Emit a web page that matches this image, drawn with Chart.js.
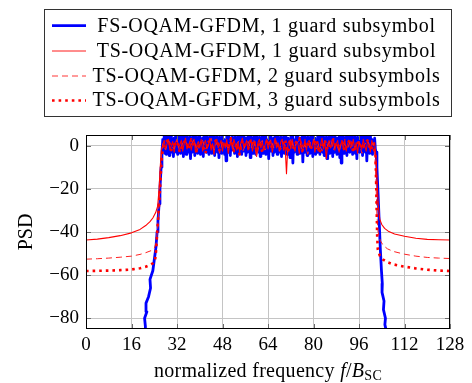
<!DOCTYPE html>
<html>
<head>
<meta charset="utf-8">
<script src="https://cdn.jsdelivr.net/npm/chart.js@4.4.1/dist/chart.umd.min.js"></script>
<style>
  html, body { margin: 0; padding: 0; background: #fff; }
  canvas { display: block; }
</style>
</head>
<body>
<canvas id="c" width="472" height="383" style="width:472px;height:383px"></canvas>
<script>
// ---------------- data ----------------
const seriesLabels = [
  'FS-OQAM-GFDM, 1 guard subsymbol',
  'TS-OQAM-GFDM, 1 guard subsymbol',
  'TS-OQAM-GFDM, 2 guard subsymbols',
  'TS-OQAM-GFDM, 3 guard subsymbols'
];
const xTicks = [0, 16, 32, 48, 64, 80, 96, 112, 128];
const yTicks = [-80, -60, -40, -20, 0];

// passband sample grids (normalized frequency)
const bluePassStart = 27, bluePassStep = 0.25;
const redPassStart = 27, redPassStep = 0.5;        // red solid
const coarsePassStart = 27, coarsePassStep = 1;    // red dashed + red dotted

// FS-OQAM-GFDM, 1 guard subsymbol
const blueLeftEdge = [[20.4,-93],[20.9,-84],[20.6,-80],[21.4,-77],[21.1,-73],[22,-70],[22.7,-66],[22.5,-62],[23.5,-58],[24.2,-51],[24.6,-47],[25,-40],[25.3,-35],[25.7,-27],[26,-20],[26.4,-10],[26.7,-3]];
const bluePass = [
  3,-2,4.5,-3.5,1.5,-4,5,-1,2.5,-4.5,4,-2.5,5,-3,1,-5,3.5,-1.5,4.5,-3,
  2,-4,5,-2,3,-3.5,4.5,-1,1.5,-5,4,-2.5,3.5,-4,5,-1.5,2.5,-3,4,-6,
  1,-3,4.5,-2,3,-4.5,5,-1,2,-3.5,4,-2.5,5,-4,1.5,-2,3.5,-5,4.5,-1.5,
  3,-3,5,-2.5,2,-4,4,-1,5,-3.5,1.5,-2,4.5,-4.5,3,-1.5,5,-3,2.5,-5.5,
  4,-2,1.5,-3.5,5,-1,3,-4,2,-7,4.5,-2.5,5,-3,1,-4.5,3.5,-2,4,-1,
  2.5,-3.5,5,-2,1.5,-5,4,-1.5,3,-3,5,-4,2,-2.5,4.5,-1,3.5,-4.5,1,-3,
  5,-2,3,-5.5,4,-1,2,-3.5,4.5,-2.5,1.5,-4,5,-1.5,3,-3,4,-5,2.5,-2,
  4.5,-3.5,1,-1.5,5,-4,3,-2,2,-6,4,-2.5,5,-1,1.5,-4.5,3.5,-3,4.5,-2,
  2,-4,5,-1.5,3,-3,4,-5,1.5,-2,4.5,-3.5,5,-1,2.5,-4,3.5,-2.5,1,-5.5,
  4,-2,5,-8,3,-3,2,-1.5,4.5,-4,5,-2.5,1.5,-3.5,3.5,-1,4,-7.5,2.5,-3,
  5,-2,1.5,-4.5,4,-1,3,-3.5,5,-2.5,2,-5,4.5,-1.5,3.5,-4,1,-3,5,-2,
  3,-4,4.5,-1,2,-3,5,-4.5,1.5,-2.5,4,-6,3,-1.5,5,-3.5,2.5,-2,4.5,-5,
  1.5,-3,5,-1,3.5,-4,2,-2.5,4,-5.5,4.5,-8,3,-2,5,-3.5,1,-1.5,4,-4.5,
  2.5,-2,5,-3,3.5,-1,4.5,-4,1.5,-2.5,5,-3.5,3,-6,4,-1.5,2,-3,4.5,-2,
  3,-4.5,5,-1.5,2,-3,4,-7,1.5,-2.5,4.5,-3.5,5,-1,3,-4,2.5,-2,3.5,-1.5
];
const blueRightEdge = [[102,-3],[102.3,-10],[102.7,-22],[103.1,-35],[103.5,-48],[103.9,-58],[104.2,-64],[104.1,-68],[104.8,-72],[104.6,-76],[105.3,-80],[105.1,-83],[105.8,-87],[106.3,-93]];

// TS-OQAM-GFDM, 1 guard subsymbol
const redSolidLeftEdge = [[0,-43.7],[4,-43.3],[8,-42.6],[12,-41.7],[16,-40.4],[19,-38.8],[21,-37],[22.5,-35.2],[23.5,-33.5],[24.5,-31],[25.2,-28],[25.7,-20],[26.1,-10],[26.5,-2]];
const redSolidPass = [
  0.5,2.5,-1.5,1,3,-2,0,2,-3,1.5,
  3,-1,0.5,2.5,-2.5,1,3.5,-1.5,0,2,
  -2,1.5,3,-3,0.5,2,-1,3,-2.5,1,
  2.5,-1.5,0,3.5,-2,1,-4,2,3,-1,
  0.5,2.5,-2.5,1.5,-1,3,-3.5,0,2,-1.5,
  3,0.5,-2,2,-3,1.5,3.5,-1,0.5,2.5,
  -1.5,1,3,-2.5,0,2,-5,1.5,3,-1,
  2,-2,0.5,3,-1.5,1,2.5,-3,0,3.5,
  -1,1.5,-2.5,2,3,-2,0.5,-13,1,2.5,
  -1.5,3,0,-2.5,2,1,-3.5,2.5,0.5,-1,
  3,-2,1.5,2.5,-1,0,3,-3,1,2,
  -2.5,0.5,3.5,-1.5,2,-6,1,2.5,-1,0,
  3,-2,1,2.5,-3,0.5,2,-1.5,3,-2.5,
  1,2.5,-1,0,3,-2,1.5,-3.5,2,0.5,
  -1.5,3,0,-2.5,2,1,-3,2.5,0,1.5
];
const redSolidRightEdge = [[102,-6],[102.4,-18],[102.8,-28],[103.3,-34],[104,-36.5],[105,-38.3],[106.5,-39.8],[108.5,-40.9],[112,-42],[116,-42.9],[120,-43.4],[124,-43.6],[128,-43.7]];

// TS-OQAM-GFDM, 2 guard subsymbols
const redDashedLeftEdge = [[0,-52.6],[4,-52.4],[8,-52.1],[12,-51.7],[16,-51.2],[19,-50.4],[21,-49.6],[23,-48.6],[24,-47.5],[24.7,-45],[25.2,-38],[25.7,-26],[26.2,-12],[26.6,-3]];
const redDashedPass = [
  1,-2,2.5,0,-1.5,3,-3,1.5,2,-1,0.5,3,-2.5,1,2.5,-1.5,0,3.5,-2,1.5,
  -3.5,2,0.5,-1,3,-2,1,2.5,-3,0,2,-1.5,3,-5,1,2.5,-2,0.5,3,-1,
  1.5,-2.5,2,0,-3,3.5,-1,1,2.5,-2,0.5,-4,2,3,-1.5,1,-2.5,2.5,0,3,
  -2,1.5,-3,2,0.5,-1.5,3,-2.5,1,2,-3.5,0.5,2.5,-1,1.5
];
const redDashedRightEdge = [[101.6,-5],[102,-18],[102.3,-32],[102.7,-40],[103.5,-44],[104.5,-46.2],[106,-47.8],[108,-49],[112,-50.3],[116,-51.2],[120,-51.8],[124,-52.1],[128,-52.3]];

// TS-OQAM-GFDM, 3 guard subsymbols
const redDottedLeftEdge = [[0,-58.1],[4,-58],[8,-57.9],[12,-57.7],[16,-57.4],[19,-56.8],[21,-56.1],[22.5,-55.3],[23.5,-54.5],[24.3,-53],[24.7,-48],[25,-41],[25.5,-31],[26,-21],[26.6,-6]];
const redDottedPass = [
  -1,1.5,3,-2,0.5,2,-3,1,2.5,-1.5,3,0,-2.5,2,1,-3.5,2.5,-0.5,1.5,3,
  -2,0,2,-1,3.5,-2.5,1,-4,2.5,0.5,-1.5,3,1,-2,2,-3,0.5,3,-1,1.5,
  2.5,-2,0,3,-3,1.5,-1,2,3.5,-2.5,0.5,2,-1.5,1,3,-3.5,0,2.5,-2,1,
  3,-1,0.5,2,-2.5,1.5,3,-3,0,2,-1.5,1,2.5,-2,0
];
const redDottedRightEdge = [[101.8,-4],[102,-15],[102.2,-29],[102.4,-42],[102.6,-48],[103.3,-51],[104.5,-52.8],[106,-54],[108,-55],[111.6,-56],[116,-56.9],[120,-57.5],[124,-57.9],[128,-58.1]];

// ---------------- build ----------------
function build(left, pass, start, step, right) {
  const pts = left.map(p => ({x: p[0], y: p[1]}));
  pass.forEach((v, i) => pts.push({x: start + i * step, y: v}));
  right.forEach(p => pts.push({x: p[0], y: p[1]}));
  return pts;
}

const styles = [
  {color: '#0000ff', width: 2.8, dash: [], order: 10, legendWidth: 2.8},
  {color: '#ff0000', width: 1.1, dash: [], order: 3, legendWidth: 0.9},
  {color: '#ff2020', width: 1.0, dash: [6, 4], order: 2, legendWidth: 0.9},
  {color: '#ff0000', width: 2.6, dash: [2.6, 4], order: 1, legendWidth: 2.6}
];

const seriesData = [
  build(blueLeftEdge, bluePass, bluePassStart, bluePassStep, blueRightEdge),
  build(redSolidLeftEdge, redSolidPass, redPassStart, redPassStep, redSolidRightEdge),
  build(redDashedLeftEdge, redDashedPass, coarsePassStart, coarsePassStep, redDashedRightEdge),
  build(redDottedLeftEdge, redDottedPass, coarsePassStart, coarsePassStep, redDottedRightEdge)
];

const SERIF = '"Liberation Serif", "Times New Roman", serif';

const framePlugin = {
  id: 'frame',
  afterDatasetsDraw(chart) {
    const {ctx, chartArea: a, scales} = chart;
    ctx.save();
    ctx.strokeStyle = '#6a6a6a';
    ctx.lineWidth = 1;
    ctx.beginPath();
    xTicks.forEach(v => {
      const px = Math.round(scales.x.getPixelForValue(v)) + 0.5;
      ctx.moveTo(px, a.bottom); ctx.lineTo(px, a.bottom - 5);
      ctx.moveTo(px, a.top); ctx.lineTo(px, a.top + 5);
    });
    yTicks.forEach(v => {
      const py = Math.round(scales.y.getPixelForValue(v)) + 0.5;
      ctx.moveTo(a.left, py); ctx.lineTo(a.left + 5, py);
      ctx.moveTo(a.right, py); ctx.lineTo(a.right - 5, py);
    });
    ctx.stroke();
    ctx.strokeStyle = '#000';
    ctx.lineWidth = 1;
    ctx.strokeRect(Math.round(a.left) + 0.5, Math.round(a.top) + 0.5,
                   Math.round(a.right - a.left) - 1, Math.round(a.bottom - a.top) - 1);
    ctx.restore();
  },
  afterDraw(chart) {
    const {ctx, chartArea: a} = chart;
    ctx.save();
    // y title
    ctx.fillStyle = '#000';
    ctx.font = '20px ' + SERIF;
    ctx.textAlign = 'center';
    ctx.textBaseline = 'alphabetic';
    ctx.translate(32, (a.top + a.bottom) / 2);
    ctx.rotate(-Math.PI / 2);
    ctx.fillText('PSD', 0, 0);
    ctx.restore();

    // x title with italic symbols and subscript
    ctx.save();
    ctx.fillStyle = '#000';
    ctx.textBaseline = 'alphabetic';
    ctx.textAlign = 'left';
    const parts = [
      {t: 'normalized frequency ', f: '20px ' + SERIF, dy: 0},
      {t: 'f', f: 'italic 20px ' + SERIF, dy: 0},
      {t: '/', f: '20px ' + SERIF, dy: 0},
      {t: 'B', f: 'italic 20px ' + SERIF, dy: 0},
      {t: 'SC', f: '14px ' + SERIF, dy: 3}
    ];
    ctx.letterSpacing = '0.3px';
    let w = 0;
    parts.forEach(p => { ctx.font = p.f; p.w = ctx.measureText(p.t).width; w += p.w; });
    let x = (a.left + a.right) / 2 - w / 2;
    parts.forEach(p => { ctx.font = p.f; ctx.fillText(p.t, x, 377 + p.dy); x += p.w; });
    ctx.restore();

    // legend
    ctx.save();
    ctx.fillStyle = '#fff';
    ctx.fillRect(45, 10, 406, 106);
    ctx.strokeStyle = '#333';
    ctx.lineWidth = 1;
    ctx.strokeRect(44.5, 9.5, 407, 107);
    const rowsY = [25.7, 51, 76, 100.5];
    const baseY = [31.7, 56.9, 81.6, 106];
    ctx.font = '20px ' + SERIF;
    ctx.letterSpacing = '0.7px';
    ctx.textAlign = 'center';
    ctx.textBaseline = 'alphabetic';
    seriesLabels.forEach((lab, i) => {
      const s = styles[i];
      ctx.beginPath();
      ctx.strokeStyle = s.color;
      ctx.lineWidth = s.legendWidth;
      ctx.setLineDash(s.dash);
      ctx.moveTo(52, rowsY[i]);
      ctx.lineTo(86, rowsY[i]);
      ctx.stroke();
      ctx.setLineDash([]);
      ctx.fillStyle = '#000';
      ctx.fillText(lab, 266.5, baseY[i]);
    });
    ctx.restore();
  }
};

new Chart(document.getElementById('c'), {
  type: 'line',
  data: {
    datasets: seriesData.map((d, i) => ({
      label: seriesLabels[i],
      data: d,
      borderColor: styles[i].color,
      borderWidth: styles[i].width,
      borderDash: styles[i].dash,
      borderJoinStyle: 'round',
      pointRadius: 0,
      fill: false,
      tension: 0,
      order: styles[i].order,
      clip: 0
    }))
  },
  options: {
    responsive: false,
    animation: false,
    devicePixelRatio: 1,
    layout: {padding: {left: 0, right: 22, top: 135, bottom: 0}},
    plugins: {legend: {display: false}, tooltip: {enabled: false}, title: {display: false}},
    scales: {
      x: {
        type: 'linear', min: 0, max: 128,
        afterBuildTicks: s => { s.ticks = xTicks.map(v => ({value: v})); },
        afterFit: s => { s.height = 54; },
        grid: {color: '#c4c4c4', lineWidth: 1, drawTicks: false},
        border: {display: false},
        ticks: {color: '#000', font: {family: SERIF, size: 19}, padding: 5, maxRotation: 0, autoSkip: false,
                callback: v => String(v)}
      },
      y: {
        type: 'linear', min: -85, max: 5,
        afterBuildTicks: s => { s.ticks = yTicks.map(v => ({value: v})); },
        afterFit: s => { s.width = 86; },
        grid: {color: '#c4c4c4', lineWidth: 1, drawTicks: false},
        border: {display: false},
        ticks: {color: '#000', font: {family: SERIF, size: 19}, padding: 7, autoSkip: false,
                callback: v => (v < 0 ? '\u2212' + Math.abs(v) : String(v))}
      }
    }
  },
  plugins: [framePlugin]
});
</script>
</body>
</html>
